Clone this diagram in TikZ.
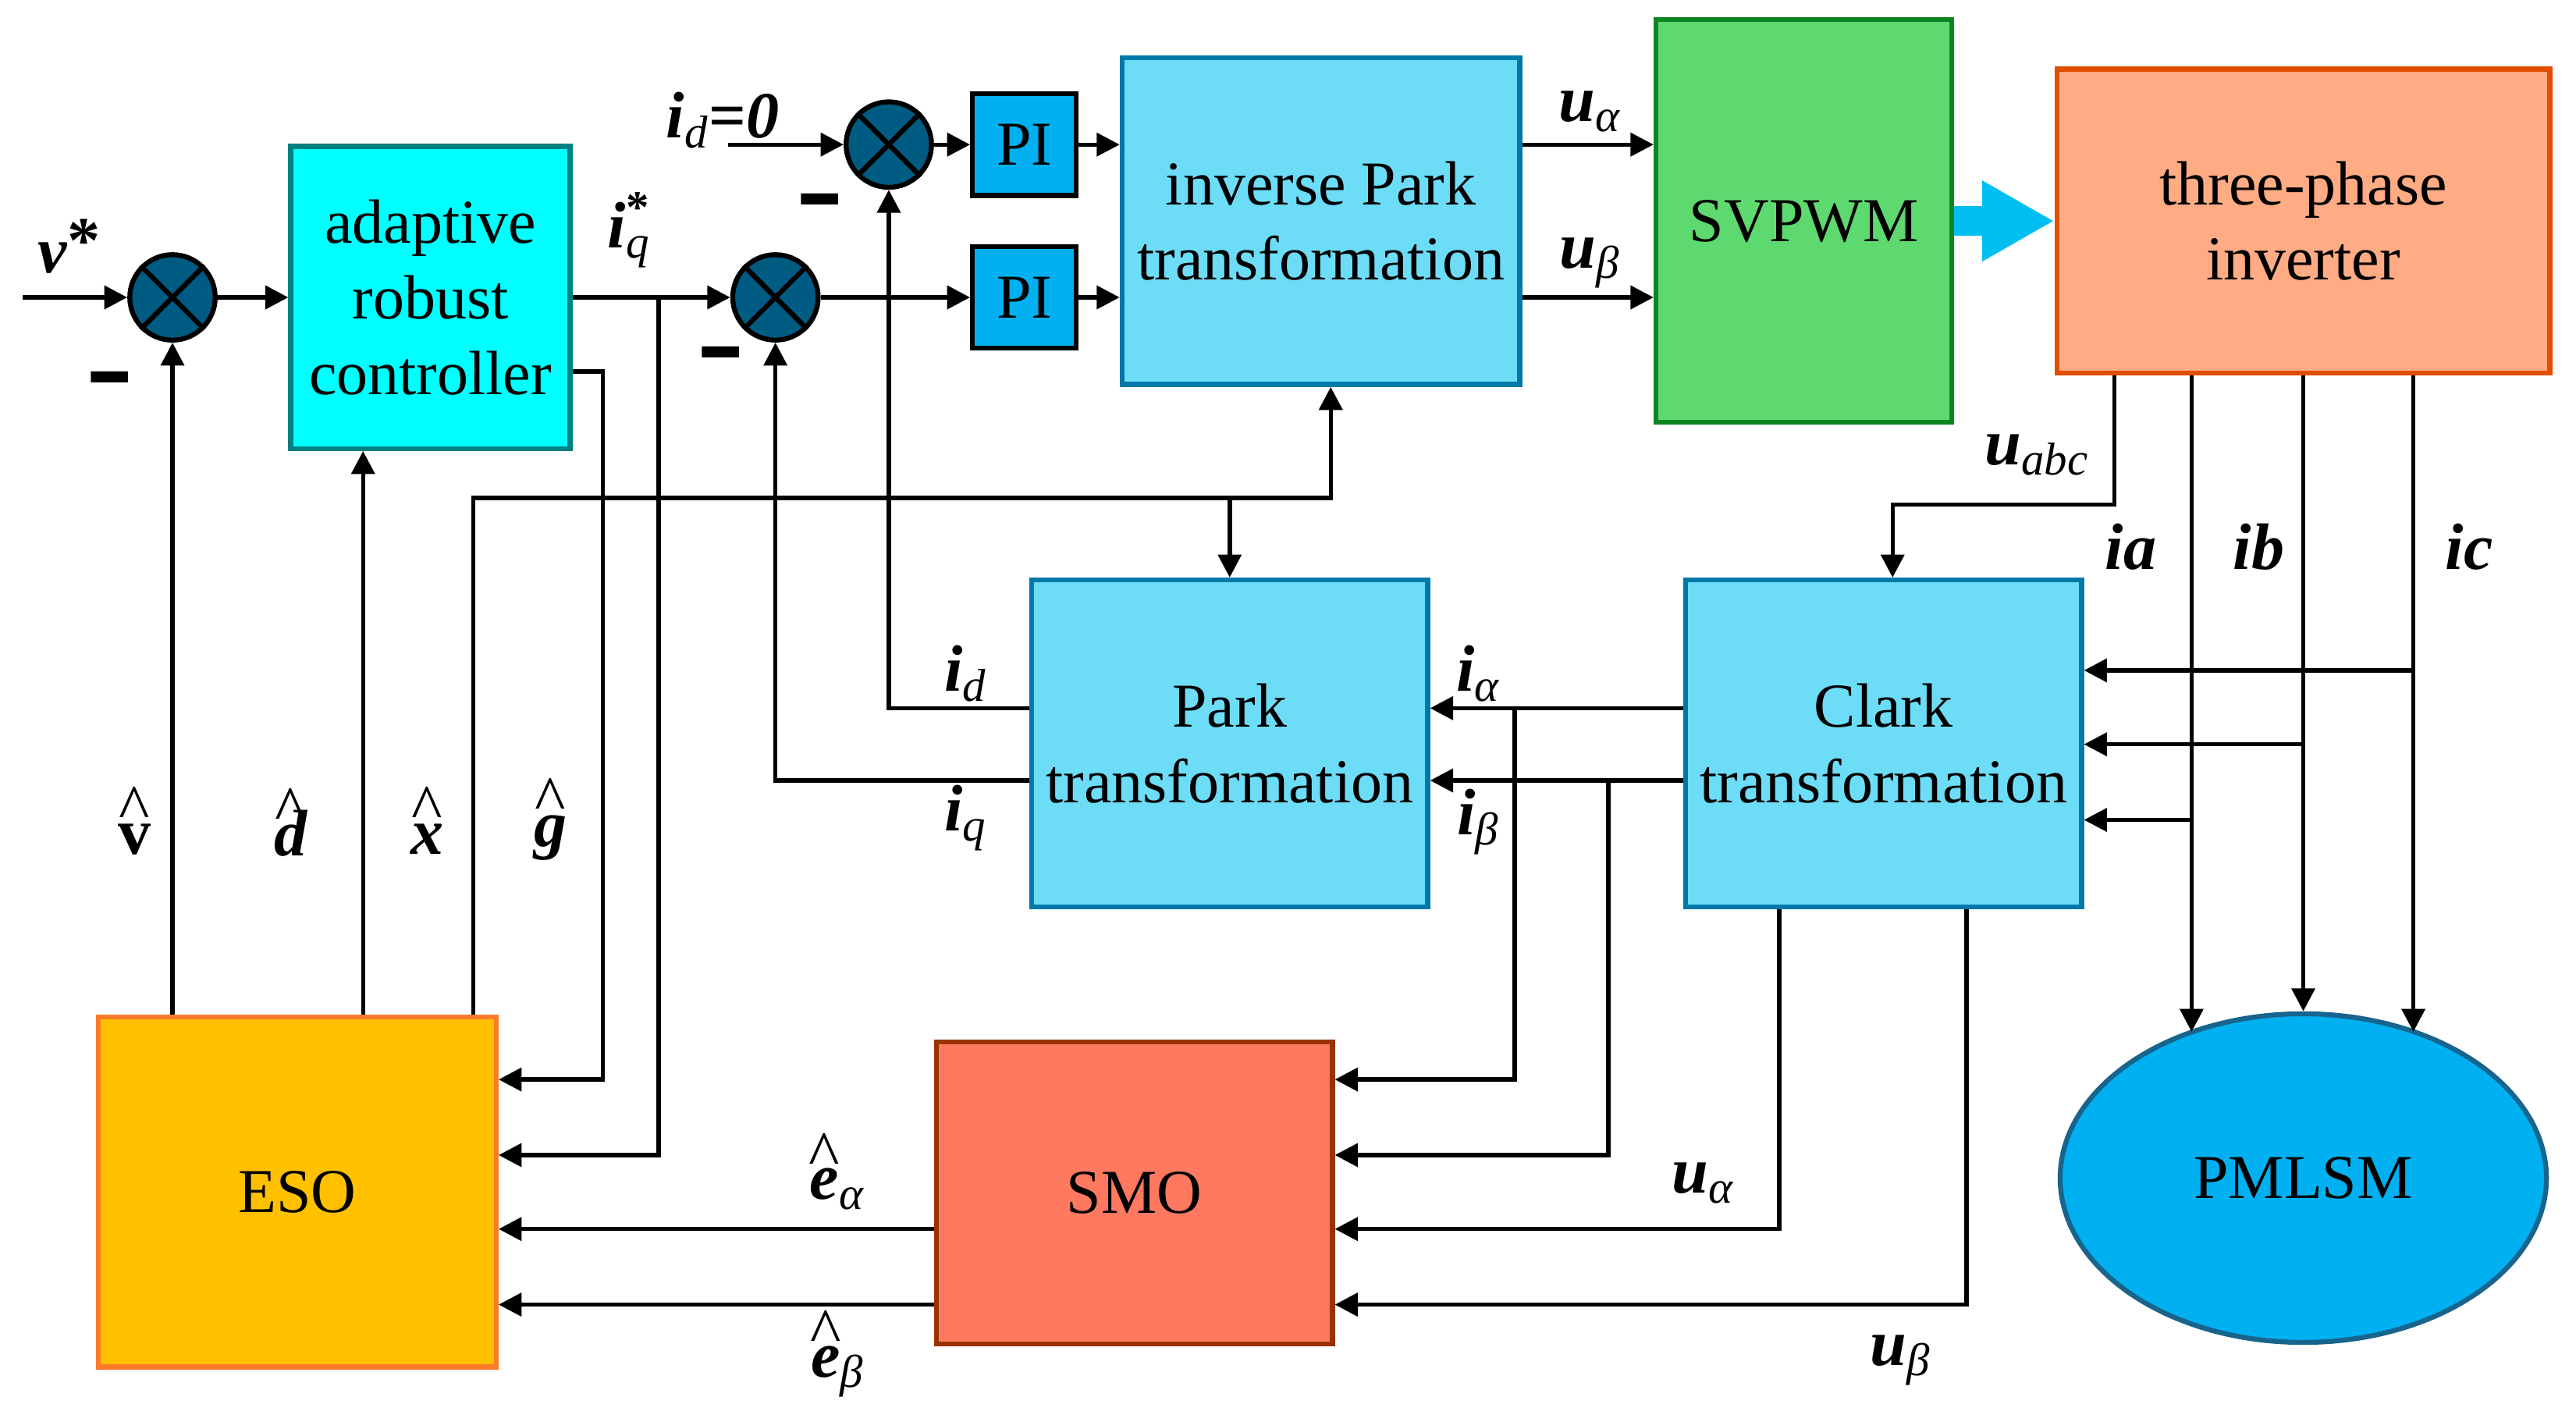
\documentclass[tikz,border=0pt]{standalone}
\usepackage{fontspec}
\usepackage{graphicx}
\setmainfont{Liberation Serif}
\usetikzlibrary{arrows.meta,shapes.geometric}

\definecolor{sumfill}{HTML}{005B82}
\definecolor{arcfill}{HTML}{00FFFF}
\definecolor{arcline}{HTML}{008080}
\definecolor{trfill}{HTML}{6DDCF7}
\definecolor{trline}{HTML}{0078A8}
\definecolor{pifill}{HTML}{00B0F0}
\definecolor{svfill}{HTML}{5ED96F}
\definecolor{svline}{HTML}{0A8520}
\definecolor{invfill}{HTML}{FFAB84}
\definecolor{invline}{HTML}{E04E00}
\definecolor{esofill}{HTML}{FFC000}
\definecolor{esoline}{HTML}{FA7A2A}
\definecolor{smofill}{HTML}{FF7961}
\definecolor{smoline}{HTML}{993300}
\definecolor{pmfill}{HTML}{00B0F0}
\definecolor{pmline}{HTML}{17648C}
\definecolor{bigarrow}{HTML}{00BFF0}

\newcommand\boxfont{\fontsize{19}{23}\selectfont}
\newcommand\labfont{\fontsize{20}{22}\selectfont}
\newcommand\bi[1]{\textbf{\textit{#1}}}
\newcommand\sbs[1]{\textsubscript{\textit{#1}}}
\newcommand\minussign{\scalebox{1.1}[2.4]{\textbf{–}}}
\newcommand\hatted[2]{\ooalign{#1\cr\hidewidth\raisebox{#2}{\textasciicircum}\hidewidth\cr}}

\begin{document}
\begin{tikzpicture}[x=0.5pt,y=-0.5pt,
  blk/.style={draw, line width=1.5pt, align=center, inner sep=0pt, font=\boxfont},
  sumj/.style={circle, draw=black, line width=1.5pt, fill=sumfill, minimum size=26pt, inner sep=0pt},
  xline/.style={line width=1.5pt},
  conn/.style={line width=1.3pt},
  arr/.style={conn, -{Triangle[length=7pt,width=7pt]}},
  lab/.style={font=\labfont, inner sep=0pt},
  hlab/.style={font=\labfont, inner sep=0pt, anchor=base},
  minusmark/.style={inner sep=0pt, font=\labfont}
]
\useasboundingbox (0,0) rectangle (1568,861);

% ---------- blocks ----------
\node[blk, fill=arcfill, draw=arcline, minimum width=85pt, minimum height=92pt] (arc) at (262,181) {adaptive\\robust\\controller};
\node[blk, fill=trfill, draw=trline, minimum width=121pt, minimum height=99.5pt] (invpark) at (804,134.5) {inverse Park\\transformation};
\node[blk, fill=svfill, draw=svline, minimum width=90pt, minimum height=122.5pt] (svpwm) at (1098,134.5) {SVPWM};
\node[blk, fill=invfill, draw=invline, minimum width=150pt, minimum height=92.5pt] (inv) at (1402,134.5) {three-phase\\inverter};
\node[blk, fill=trfill, draw=trline, minimum width=120.5pt, minimum height=99.5pt] (park) at (748.5,452.5) {Park\\transformation};
\node[blk, fill=trfill, draw=trline, minimum width=120.5pt, minimum height=99.5pt] (clark) at (1146.5,452.5) {Clark\\transformation};
\node[blk, fill=esofill, draw=esoline, minimum width=121pt, minimum height=106.5pt] (eso) at (181,725.5) {ESO};
\node[blk, fill=smofill, draw=smoline, minimum width=120.5pt, minimum height=92pt] (smo) at (690.5,726) {SMO};
\node[blk, ellipse, fill=pmfill, draw=pmline, minimum width=148pt, minimum height=100pt] (pmlsm) at (1402,717) {PMLSM};
\node[blk, fill=pifill, draw=black, minimum width=31.5pt, minimum height=31pt] (pi1) at (623.5,88) {PI};
\node[blk, fill=pifill, draw=black, minimum width=31.5pt, minimum height=31pt] (pi2) at (623.5,181) {PI};

% summing junctions
\node[sumj] (s1) at (105,181) {};
\node[sumj] (s2) at (472,181) {};
\node[sumj] (s3) at (541,88) {};
\foreach \s in {s1,s2,s3}{
  \draw[xline] (\s.north west) -- (\s.south east) (\s.north east) -- (\s.south west);
}

% ---------- helper coordinates ----------
\coordinate (vin) at (14,181);
\coordinate (idin) at (443,88);
\coordinate (cd) at (221,0);
\coordinate (cx) at (288,0);
\coordinate (cg) at (367,0);
\coordinate (ciq) at (401,0);
\coordinate (cip) at (810,0);
\coordinate (cal) at (922,0);
\coordinate (cbe) at (979,0);
\coordinate (cua) at (1083,0);
\coordinate (cub) at (1197,0);
\coordinate (cuabc) at (1287,0);
\coordinate (cclk) at (1152,0);
\coordinate (cia) at (1334,0);
\coordinate (cib) at (1402,0);
\coordinate (cic) at (1469,0);
\coordinate (rd) at (0,88);
\coordinate (rq) at (0,181);
\coordinate (rg) at (0,226);
\coordinate (rbus) at (0,303);
\coordinate (rab) at (0,307);
\coordinate (rc1) at (0,408);
\coordinate (rid) at (0,431);
\coordinate (rc2) at (0,453);
\coordinate (riq) at (0,475);
\coordinate (rc3) at (0,499);
\coordinate (rm1) at (0,657);
\coordinate (rm2) at (0,703);
\coordinate (rm3) at (0,748);
\coordinate (rm4) at (0,794);
\coordinate (rpm) at (0,628);

% ---------- connectors ----------
\draw[arr] (vin) -- (s1.west);
\draw[arr] (s1.east) -- (arc.west);
\draw[arr] (s1 |- eso.north) -- (s1.south);
\draw[arr] (cd |- eso.north) -- (cd |- arc.south);
\draw[arr] (arc.east) -- (s2.west);
\draw[arr] (ciq |- rq) -- (ciq |- rm2) -- (eso.east |- rm2);
\draw[arr] (arc.east |- rg) -- (cg |- rg) -- (cg |- rm1) -- (eso.east |- rm1);
\draw[arr] (cx |- eso.north) -- (cx |- rbus) -- (cip |- rbus) -- (cip |- invpark.south);
\draw[arr] (park.north |- rbus) -- (park.north);
\draw[arr] (park.west |- riq) -- (s2 |- riq) -- (s2.south);
\draw[arr] (park.west |- rid) -- (s3 |- rid) -- (s3.south);
\draw[arr] (idin) -- (s3.west);
\draw[arr] (s3.east) -- (pi1.west);
\draw[arr] (s2.east) -- (pi2.west);
\draw[arr] (pi1.east) -- (invpark.west |- pi1);
\draw[arr] (pi2.east) -- (invpark.west |- pi2);
\draw[arr] (invpark.east |- rd) -- (svpwm.west |- rd);
\draw[arr] (invpark.east |- rq) -- (svpwm.west |- rq);
\draw[bigarrow, line width=9pt, -{Triangle[length=22pt,width=23pt]}] (svpwm.east) -- (inv.west);
\draw[arr] (cuabc |- inv.south) -- (cuabc |- rab) -- (cclk |- rab) -- (cclk |- clark.north);
\draw[arr] (cia |- inv.south) -- (cia |- rpm);
\draw[arr] (cib |- inv.south) -- (pmlsm.north);
\draw[arr] (cic |- inv.south) -- (cic |- rpm);
\draw[arr] (cic |- rc1) -- (clark.east |- rc1);
\draw[arr] (cib |- rc2) -- (clark.east |- rc2);
\draw[arr] (cia |- rc3) -- (clark.east |- rc3);
\draw[arr] (clark.west |- rid) -- (park.east |- rid);
\draw[arr] (clark.west |- riq) -- (park.east |- riq);
\draw[arr] (cal |- rid) -- (cal |- rm1) -- (smo.east |- rm1);
\draw[arr] (cbe |- riq) -- (cbe |- rm2) -- (smo.east |- rm2);
\draw[arr] (cua |- clark.south) -- (cua |- rm3) -- (smo.east |- rm3);
\draw[arr] (cub |- clark.south) -- (cub |- rm4) -- (smo.east |- rm4);
\draw[arr] (smo.west |- rm3) -- (eso.east |- rm3);
\draw[arr] (smo.west |- rm4) -- (eso.east |- rm4);

% ---------- minus signs ----------
\node[minusmark] (m1) at (67,239) {\minussign};
\node[minusmark] (m2) at (439,224) {\minussign};
\node[minusmark] (m3) at (499,131) {\minussign};

% ---------- labels ----------
\node[lab] (lv) at (42,150) {\bi{v}\raisebox{3pt}{\textbf{*}}};
\node[lab] (liqs) at (383,140) {\bi{i}\rlap{\sbs{q}}\textsuperscript{\textbf{*}}};
\node[lab] (lid0) at (440,73) {\bi{i}\sbs{d}\textbf{=}\bi{0}};
\node[lab] (lua1) at (968,68) {\bi{u}\sbs{α}};
\node[lab] (lub1) at (968,160) {\bi{u}\sbs{β}};
\node[lab] (luabc) at (1240,277) {\bi{u}\sbs{abc}};
\node[lab] (lia) at (1297,333) {\bi{ia}};
\node[lab] (lib) at (1375,333) {\bi{ib}};
\node[lab] (lic) at (1503,333) {\bi{ic}};
\node[lab] (lidp) at (588,410) {\bi{i}\sbs{d}};
\node[lab] (liqp) at (588,498) {\bi{i}\sbs{q}};
\node[lab] (lial) at (900,410) {\bi{i}\sbs{α}};
\node[lab] (libe) at (900,500) {\bi{i}\sbs{β}};
\node[lab] (lua2) at (1037,720) {\bi{u}\sbs{α}};
\node[lab] (lub2) at (1157,828) {\bi{u}\sbs{β}};

\node[hlab] (hv) at (82,520) {\hatted{\textbf{v}}{7.5pt}};
\node[hlab] (hd) at (177,521) {\hatted{\bi{d}}{7.5pt}};
\node[hlab] (hx) at (260,520) {\hatted{\bi{x}}{7.5pt}};
\node[hlab] (hg) at (335,515) {\hatted{\bi{g}}{7.5pt}};
\node[hlab] (hea) at (510,730) {\hatted{\bi{e}}{7pt}\sbs{α}};
\node[hlab] (heb) at (510,838) {\hatted{\bi{e}}{7pt}\sbs{β}};
\end{tikzpicture}
\end{document}
